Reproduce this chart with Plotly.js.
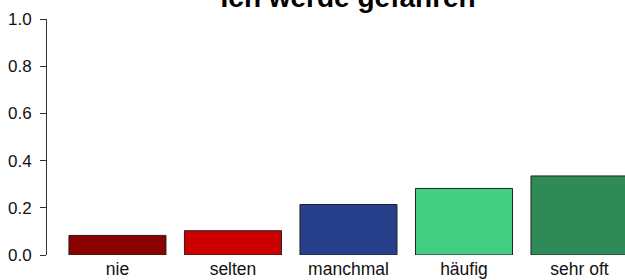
<!DOCTYPE html>
<html>
<head>
<meta charset="utf-8">
<script src="https://cdn.plot.ly/plotly-3.0.1.min.js"></script>
<style>html,body{margin:0;padding:0;background:#fff;}#chart{width:625px;height:280px;}</style>
</head>
<body>
<div id="chart"></div>
<script>
const categories = ["nie", "selten", "manchmal", "häufig", "sehr oft"];
const values = [0.083, 0.103, 0.214, 0.282, 0.335];
const barColors = ["#8B0000", "#CD0000", "#27408B", "#43CD80", "#2E8B57"];
const yTickVals = [0, 0.2, 0.4, 0.6, 0.8, 1.0];
const yTickText = ["0.0", "0.2", "0.4", "0.6", "0.8", "1.0"];
const titleText = "Ich werde gefahren";

const fam = "Liberation Sans, Arial, sans-serif";

Plotly.newPlot("chart", [{
  type: "bar",
  x: categories,
  y: values,
  marker: {color: barColors, line: {color: "#222", width: 1}},
  width: 0.84,
  hoverinfo: "none"
}], {
  width: 625, height: 280,
  margin: {l: 47, r: 0, t: 18.5, b: 25, pad: 0},
  paper_bgcolor: "#fff", plot_bgcolor: "#fff",
  showlegend: false,
  font: {family: fam, size: 17, color: "#111"},
  title: {
    text: "<b>" + titleText + "</b>",
    font: {family: fam, size: 28, color: "#000"},
    x: 0.557, xref: "container", xanchor: "center",
    y: 0.976, yref: "container", yanchor: "bottom"
  },
  xaxis: {
    type: "category",
    range: [-0.61, 4.394],
    showline: false, ticks: "", showgrid: false, zeroline: false,
    tickfont: {family: fam, size: 17.5, color: "#111"},
    ticklabelstandoff: 1,
    fixedrange: true
  },
  yaxis: {
    range: [0, 1],
    tickvals: yTickVals, ticktext: yTickText,
    showline: true, linecolor: "#333", linewidth: 1,
    ticks: "outside", ticklen: 6, tickcolor: "#333", tickwidth: 1,
    showgrid: false, zeroline: false,
    tickfont: {family: fam, size: 17, color: "#111"},
    ticklabelstandoff: 5,
    fixedrange: true
  }
}, {staticPlot: true});
</script>
</body>
</html>
